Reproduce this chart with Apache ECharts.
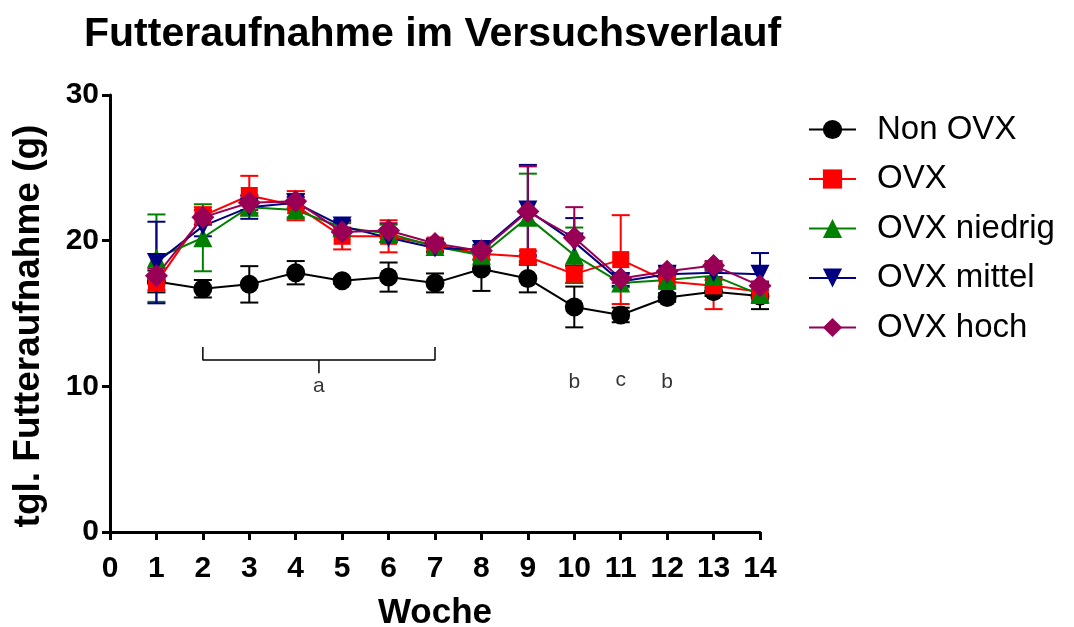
<!DOCTYPE html>
<html>
<head>
<meta charset="utf-8">
<script src="https://cdn.jsdelivr.net/npm/echarts@6/dist/echarts.min.js"></script>
<style>
  html, body { margin: 0; padding: 0; background: #ffffff; }
  #chart { width: 1074px; height: 627px; }
</style>
</head>
<body>
<div id="chart"></div>
<script>
// Weeks of the trial
const weeks = [1, 2, 3, 4, 5, 6, 7, 8, 9, 10, 11, 12, 13, 14];

// Daily food intake (g), mean and SEM per group
const nonOvxMean   = [17.2, 16.7, 17.0, 17.8, 17.25, 17.5, 17.1, 18.05, 17.4, 15.45, 14.9, 16.1, 16.5, 16.2];
const nonOvxSem    = [0.75, 0.6, 1.25, 0.8, 0.2, 1.0, 0.65, 1.5, 0.95, 1.4, 0.5, 0.3, 0.3, 0.9];
const ovxMean      = [17.1, 21.7, 23.1, 22.4, 20.3, 20.3, 19.7, 19.1, 18.9, 17.7, 18.7, 17.2, 16.9, 16.5];
const ovxSem       = [0.5, 0.6, 1.35, 1.0, 0.9, 1.1, 0.4, 0.4, 0.4, 0.6, 3.05, 0.4, 1.6, 0.4];
const niedrigMean  = [18.8, 20.2, 22.3, 22.1, 20.9, 20.5, 19.6, 19.0, 21.6, 19.0, 17.1, 17.3, 17.6, 16.3];
const niedrigSem   = [3.0, 2.3, 0.4, 0.5, 0.4, 0.6, 0.3, 0.3, 3.0, 1.9, 0.3, 0.4, 0.3, 0.5];
const mittelMean   = [18.5, 21.0, 22.3, 22.6, 21.0, 20.2, 19.5, 19.4, 22.1, 19.9, 17.2, 17.7, 17.8, 17.7];
const mittelSem    = [2.8, 0.7, 0.8, 0.4, 0.4, 0.3, 0.3, 0.3, 3.1, 1.65, 0.3, 0.3, 0.3, 1.45];
const hochMean     = [17.6, 21.6, 22.6, 22.7, 20.6, 20.7, 19.8, 19.3, 22.0, 20.2, 17.4, 17.9, 18.3, 16.9];
const hochSem      = [0.5, 0.5, 0.5, 0.5, 0.3, 0.5, 0.3, 0.3, 3.1, 2.1, 0.3, 0.3, 0.3, 0.3];

// Axis ticks
const xTicks = { min: 0, max: 14, step: 1 };
const yTicks = { min: 0, max: 30, step: 10 };

// Significance markers
const bracketPath = [[2, 12.7], [2, 11.8], [7, 11.8], [7, 12.7]];
const bracketStem = [[4.5, 11.8], [4.5, 10.9]];
const sigLetters  = [[4.5, 10.0, 'a'], [10, 10.3, 'b'], [11, 10.4, 'c'], [12, 10.3, 'b']];

const FONT = 'Liberation Sans, Arial, sans-serif';

const groups = [
  { name: 'Non OVX',     mean: nonOvxMean,  sem: nonOvxSem,  color: '#000000', symbol: 'circle',   size: 19, rotate: 0 },
  { name: 'OVX',         mean: ovxMean,     sem: ovxSem,     color: '#ff0000', symbol: 'rect',     size: 17, rotate: 0 },
  { name: 'OVX niedrig', mean: niedrigMean, sem: niedrigSem, color: '#008000', symbol: 'triangle', size: 19, rotate: 0 },
  { name: 'OVX mittel',  mean: mittelMean,  sem: mittelSem,  color: '#000080', symbol: 'triangle', size: 19, rotate: 180 },
  { name: 'OVX hoch',    mean: hochMean,    sem: hochSem,    color: '#990055', symbol: 'diamond',  size: 23, rotate: 0 }
];

function errorBarRenderer(color) {
  return function (params, api) {
    const x = api.value(0);
    const lo = api.coord([x, api.value(1)]);
    const hi = api.coord([x, api.value(2)]);
    const half = 9;
    const style = { stroke: color, lineWidth: 2, fill: null };
    return {
      type: 'group',
      children: [
        { type: 'line', shape: { x1: lo[0], y1: lo[1], x2: hi[0], y2: hi[1] }, style: style },
        { type: 'line', shape: { x1: lo[0] - half, y1: lo[1], x2: lo[0] + half, y2: lo[1] }, style: style },
        { type: 'line', shape: { x1: hi[0] - half, y1: hi[1], x2: hi[0] + half, y2: hi[1] }, style: style }
      ]
    };
  };
}

const series = [];
groups.forEach(function (g) {
  series.push({
    type: 'custom',
    name: g.name + ' SEM',
    renderItem: errorBarRenderer(g.color),
    data: weeks.map(function (w, i) { return [w, g.mean[i] - g.sem[i], g.mean[i] + g.sem[i]]; }),
    encode: { x: 0, y: [1, 2] },
    silent: true,
    z: 2
  });
  series.push({
    type: 'line',
    name: g.name,
    data: weeks.map(function (w, i) { return [w, g.mean[i]]; }),
    symbol: g.symbol,
    symbolSize: g.size,
    symbolRotate: g.rotate,
    showSymbol: true,
    itemStyle: { color: g.color, opacity: 1 },
    lineStyle: { color: g.color, width: 2 },
    z: 2
  });
});

series.push({
  type: 'line', name: 'bracket', data: bracketPath, symbol: 'none', silent: true,
  lineStyle: { color: '#000000', width: 1.5 }, z: 1
});
series.push({
  type: 'line', name: 'stem', data: bracketStem, symbol: 'none', silent: true,
  lineStyle: { color: '#000000', width: 1.5 }, z: 1
});
series.push({
  type: 'scatter', name: 'letters', data: sigLetters, symbolSize: 0, silent: true,
  label: {
    show: true, position: 'inside', color: '#000000', fontSize: 21, fontFamily: FONT,
    formatter: function (p) { return p.data[2]; }
  },
  z: 1
});

const chart = echarts.init(document.getElementById('chart'), null, { renderer: 'canvas' });
chart.setOption({
  animation: false,
  backgroundColor: '#ffffff',
  title: {
    text: 'Futteraufnahme im Versuchsverlauf',
    left: 79, top: 9,
    textStyle: { fontFamily: FONT, fontSize: 41, fontWeight: 'bold', color: '#000000' }
  },
  graphic: [{
    type: 'text',
    x: 29, y: 326,
    rotation: Math.PI / 2,
    style: {
      text: 'tgl. Futteraufnahme (g)',
      font: 'bold 37px ' + FONT,
      fill: '#000000',
      align: 'center',
      verticalAlign: 'middle'
    }
  }],
  grid: { left: 110, right: 314, top: 95, bottom: 95, containLabel: false, outerBoundsMode: 'none' },
  legend: {
    data: groups.map(function (g) { return g.name; }),
    orient: 'vertical',
    left: 803, top: 108,
    itemWidth: 47, itemHeight: 24, itemGap: 16.5,
    textStyle: { fontFamily: FONT, fontSize: 33, color: '#000000', lineHeight: 33, padding: [0, 0, 0, 16] }
  },
  xAxis: {
    type: 'value', min: xTicks.min, max: xTicks.max, interval: xTicks.step,
    name: 'Woche', nameLocation: 'middle', nameGap: 64,
    nameTextStyle: { fontFamily: FONT, fontSize: 35, fontWeight: 'bold', color: '#000000' },
    axisLine: { show: true, onZero: false, lineStyle: { color: '#000000', width: 3 } },
    axisTick: { show: true, length: 8, lineStyle: { color: '#000000', width: 3 } },
    axisLabel: { fontFamily: FONT, fontSize: 30, fontWeight: 'bold', color: '#000000', margin: 22 },
    splitLine: { show: false }
  },
  yAxis: {
    type: 'value', min: yTicks.min, max: yTicks.max, interval: yTicks.step,
    axisLine: { show: true, lineStyle: { color: '#000000', width: 3 } },
    axisTick: { show: true, length: 8, lineStyle: { color: '#000000', width: 3 } },
    axisLabel: { fontFamily: FONT, fontSize: 30, fontWeight: 'bold', color: '#000000', margin: 11 },
    splitLine: { show: false }
  },
  series: series
});
</script>
</body>
</html>
